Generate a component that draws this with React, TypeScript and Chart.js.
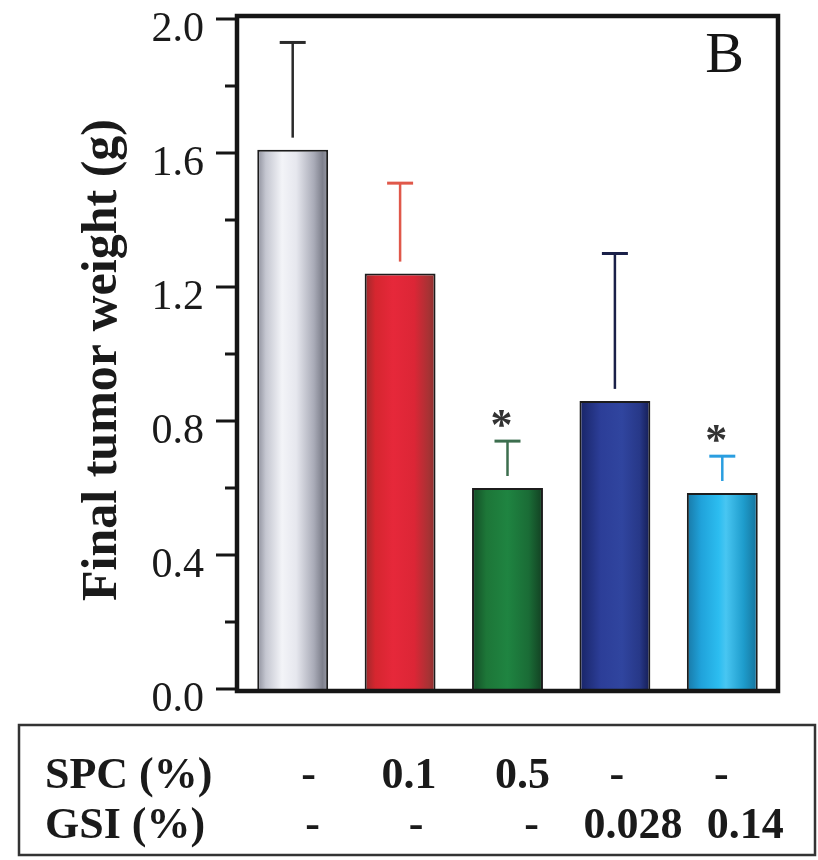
import React, { useEffect, useRef } from "react";
import { Chart, registerables } from "chart.js";

Chart.register(...registerables);

// ---- data ----
const groups = ["Control", "SPC 0.1%", "SPC 0.5%", "GSI 0.028%", "GSI 0.14%"];
const meanWeight = [1.61, 1.24, 0.6, 0.86, 0.585];
const sdWeight = [0.32, 0.27, 0.14, 0.44, 0.11];
const significant = [false, false, true, false, true];
const spcRow = ["-", "0.1", "0.5", "-", "-"];
const gsiRow = ["-", "-", "-", "0.028", "0.14"];
const rowLabels = ["SPC (%)", "GSI (%)"];
const yMin = 0;
const yMax = 2.0;
const yStep = 0.4;
const panelLetter = "B";
const yTitle = "Final tumor weight (g)";

// ---- styles ----
const gradientStops: [number, string][][] = [
  [[0, "#8c8e9a"], [0.12, "#c4c6d0"], [0.35, "#f3f4f8"], [0.55, "#e6e7ee"], [0.8, "#a9abb7"], [0.92, "#7e808c"], [1, "#9a9ca8"]],
  [[0, "#9a2a2c"], [0.15, "#d5262f"], [0.4, "#e6283a"], [0.7, "#dc2636"], [0.9, "#a83234"], [1, "#8c3030"]],
  [[0, "#134c26"], [0.2, "#1d7638"], [0.5, "#1f8441"], [0.8, "#1a6c36"], [1, "#123f22"]],
  [[0, "#182466"], [0.3, "#2c3e98"], [0.6, "#30459f"], [0.85, "#273888"], [1, "#141c52"]],
  [[0, "#1878a6"], [0.2, "#20a2da"], [0.45, "#2cbdf0"], [0.55, "#48c6f2"], [0.8, "#1e9ccc"], [1, "#16729a"]],
];
const solidColors = ["#d0d2da", "#dc2634", "#1e7e3e", "#2c3e98", "#28b0e6"];
const errorColors = ["#2a2a2a", "#e0584a", "#3c6e4e", "#1a2048", "#2a9ee0"];
const row1Nudge = [16, 9, 15, 2, -1];
const row2Nudge = [20, 16, 24, 18, 23];
const SERIF = '"Liberation Serif", "Times New Roman", serif';
const BAR_FRACTION = 0.66;

const decorPlugin = {
  id: "decor",
  afterDatasetsDraw(chart: any) {
    const { ctx, chartArea } = chart;
    const xs = chart.scales.x;
    const ys = chart.scales.y;
    ctx.save();

    // error bars
    meanWeight.forEach((m, i) => {
      const cx = xs.getPixelForValue(i);
      const yTop = ys.getPixelForValue(m + sdWeight[i]);
      const yBar = ys.getPixelForValue(m);
      ctx.strokeStyle = errorColors[i];
      ctx.lineCap = "butt";
      ctx.lineWidth = 2.5;
      ctx.beginPath();
      ctx.moveTo(cx, yTop);
      ctx.lineTo(cx, yBar - 12);
      ctx.stroke();
      ctx.lineWidth = 3;
      ctx.beginPath();
      ctx.moveTo(cx - 13, yTop);
      ctx.lineTo(cx + 13, yTop);
      ctx.stroke();
      if (significant[i]) {
        const size = 44;
        ctx.fillStyle = "#333";
        ctx.font = `bold ${size}px ${SERIF}`;
        ctx.textAlign = "center";
        ctx.textBaseline = "alphabetic";
        ctx.fillText("*", cx - 6, yTop - 24 + size * 0.5);
      }
    });

    // frame
    const left = chartArea.left - 2;
    const right = chartArea.right + 2;
    const top = chartArea.top - 3;
    const bottom = chartArea.bottom + 2;
    ctx.strokeStyle = "#151515";
    ctx.lineWidth = 4.5;
    ctx.lineCap = "square";
    ctx.beginPath();
    ctx.moveTo(left, bottom);
    ctx.lineTo(left, top);
    ctx.lineTo(right, top);
    ctx.lineTo(right, bottom);
    ctx.lineTo(left, bottom);
    ctx.stroke();

    // ticks
    ctx.lineCap = "butt";
    ctx.lineWidth = 3;
    const nMinor = Math.round((yMax - yMin) / (yStep / 2));
    for (let k = 0; k <= nMinor; k++) {
      const v = yMin + (k * yStep) / 2;
      const y = ys.getPixelForValue(v);
      const len = k % 2 === 0 ? 21 : 12;
      ctx.beginPath();
      ctx.moveTo(left - len, y);
      ctx.lineTo(left, y);
      ctx.stroke();
    }

    // panel letter
    ctx.fillStyle = "#151515";
    ctx.font = `58px ${SERIF}`;
    ctx.textAlign = "right";
    ctx.textBaseline = "alphabetic";
    ctx.fillText(panelLetter, chartArea.right - 32, chartArea.top + 53);

    // y title
    ctx.save();
    ctx.translate(103, (chartArea.top + chartArea.bottom) / 2 + 6);
    ctx.rotate(-Math.PI / 2);
    ctx.font = `bold 50px ${SERIF}`;
    ctx.textAlign = "center";
    ctx.textBaseline = "middle";
    ctx.fillStyle = "#1a1a1a";
    ctx.fillText(yTitle, 0, 0);
    ctx.restore();

    // table
    const tTop = chartArea.bottom + 36;
    const tBottom = chart.height - 5;
    ctx.strokeStyle = "#333";
    ctx.lineWidth = 2.5;
    ctx.strokeRect(19, tTop, chart.width - 22, tBottom - tTop);
    ctx.fillStyle = "#1a1a1a";
    ctx.font = `bold 44px ${SERIF}`;
    ctx.textBaseline = "alphabetic";
    const base1 = tTop + 63;
    const base2 = tTop + 113;
    ctx.textAlign = "left";
    ctx.fillText(rowLabels[0], 45, base1);
    ctx.fillText(rowLabels[1], 45, base2);
    ctx.textAlign = "center";
    spcRow.forEach((t, i) => ctx.fillText(t, xs.getPixelForValue(i) + row1Nudge[i], base1));
    gsiRow.forEach((t, i) => ctx.fillText(t, xs.getPixelForValue(i) + row2Nudge[i], base2));

    ctx.restore();
  },
};

export default function App() {
  const ref = useRef<HTMLCanvasElement>(null);
  useEffect(() => {
    document.body.style.margin = "0";
    const chart = new Chart(ref.current as HTMLCanvasElement, {
      type: "bar",
      data: {
        labels: groups,
        datasets: [
          {
            label: "Final tumor weight",
            data: meanWeight,
            backgroundColor: (c: any) => {
              const chart = c.chart;
              const area = chart.chartArea;
              const i = c.dataIndex;
              if (!area || i === undefined || !chart.scales.x) return solidColors[i ?? 0];
              const cx = chart.scales.x.getPixelForValue(i);
              const w = (area.width / groups.length) * BAR_FRACTION;
              const g = chart.ctx.createLinearGradient(cx - w / 2, 0, cx + w / 2, 0);
              gradientStops[i].forEach(([o, col]) => g.addColorStop(o, col));
              return g;
            },
            borderColor: "#1c1c1c",
            borderWidth: 2,
            barPercentage: BAR_FRACTION,
            categoryPercentage: 1.0,
          },
        ],
      },
      options: {
        responsive: false,
        animation: false,
        devicePixelRatio: 1,
        layout: { padding: { top: 19, bottom: 171, right: 42, left: 0 } },
        plugins: { legend: { display: false }, tooltip: { enabled: false }, title: { display: false } },
        scales: {
          x: { type: "category", display: false, offset: true },
          y: {
            min: yMin,
            max: yMax,
            grid: { display: false, drawTicks: false },
            border: { display: false },
            afterFit: (s: any) => {
              s.width = 239;
              s.paddingTop = 0;
              s.paddingBottom = 0;
            },
            ticks: {
              stepSize: yStep,
              padding: 35,
              labelOffset: 11,
              color: "#1a1a1a",
              font: { family: SERIF, size: 42 },
              callback: (v: any) => Number(v).toFixed(1),
            },
          },
        },
      },
      plugins: [decorPlugin],
    });
    return () => chart.destroy();
  }, []);
  return (
    <div style={{ width: 818, height: 860, background: "#fff" }}>
      <canvas ref={ref} width={818} height={860} style={{ display: "block", width: 818, height: 860 }} />
    </div>
  );
}
